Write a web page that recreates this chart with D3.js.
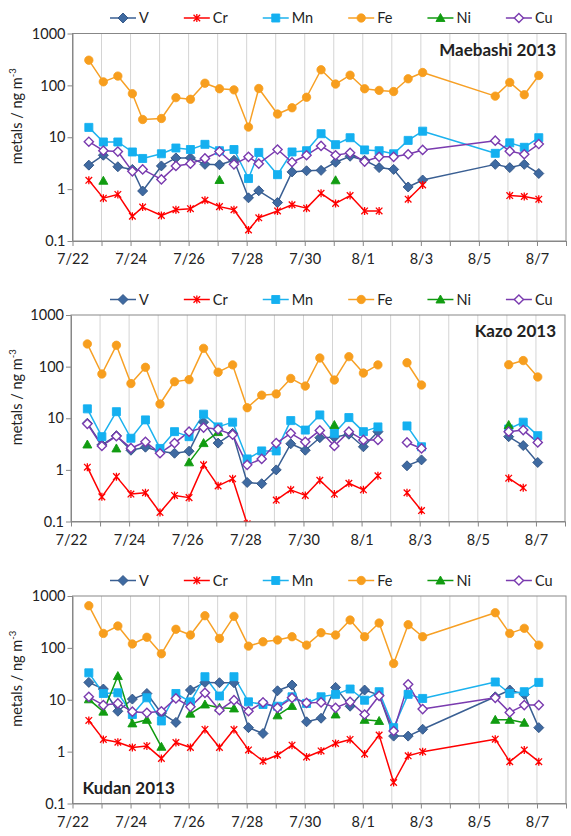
<!DOCTYPE html>
<html><head><meta charset="utf-8">
<script src="https://cdn.jsdelivr.net/npm/d3@7"></script>
<style>
body{margin:0;background:#fff;}
text{font-family:Lato,"Open Sans",sans-serif;fill:#222;}
</style>
</head><body>
<svg id="c" width="571" height="836"></svg>
<script>
// ---------------- data ----------------
const seriesNames = ["V","Cr","Mn","Fe","Ni","Cu"];
const stationNames = ["Maebashi 2013","Kazo 2013","Kudan 2013"];
const xTickLabels = ["7/22","7/24","7/26","7/28","7/30","8/1","8/3","8/5","8/7"];
const yTickValues = [0.1,1,10,100,1000];
const yTickLabels = ["0.1","1","10","100","1000"];

const sampleTimes = ["2013-07-22 13:30","2013-07-23 01:30","2013-07-23 13:30","2013-07-24 01:30","2013-07-24 13:30","2013-07-25 01:30","2013-07-25 13:30","2013-07-26 01:30","2013-07-26 13:30","2013-07-27 01:30","2013-07-27 13:30","2013-07-28 01:30","2013-07-28 13:30","2013-07-29 01:30","2013-07-29 13:30","2013-07-30 01:30","2013-07-30 13:30","2013-07-31 01:30","2013-07-31 13:30","2013-08-01 01:30","2013-08-01 13:30","2013-08-02 01:30","2013-08-02 13:30","2013-08-03 01:30","2013-08-05 13:30","2013-08-06 01:30","2013-08-06 13:30","2013-08-07 01:30"];
const sampleTimesMaebashi = ["2013-07-22 13:30","2013-07-23 01:30","2013-07-23 13:30","2013-07-24 01:30","2013-07-24 10:00","2013-07-25 01:30","2013-07-25 13:30","2013-07-26 01:30","2013-07-26 13:30","2013-07-27 01:30","2013-07-27 13:30","2013-07-28 01:30","2013-07-28 10:00","2013-07-29 01:30","2013-07-29 13:30","2013-07-30 01:30","2013-07-30 13:30","2013-07-31 01:30","2013-07-31 13:30","2013-08-01 01:30","2013-08-01 13:30","2013-08-02 01:30","2013-08-02 13:30","2013-08-03 01:30","2013-08-05 13:30","2013-08-06 01:30","2013-08-06 13:30","2013-08-07 01:30"];

// Maebashi
const maebashiV  = [2.9,4.5,2.7,2.4,0.92,2.8,4.0,4.0,3.0,2.95,3.6,0.68,0.93,0.55,2.15,2.26,2.3,3.3,4.3,3.6,2.6,2.4,1.1,1.5,3.0,2.6,3.0,2.0];
const maebashiCr = [1.48,0.67,0.79,0.30,0.45,0.31,0.40,0.42,0.61,0.46,0.40,0.163,0.28,0.38,0.50,0.43,0.83,0.53,0.75,0.38,0.38,null,0.64,1.2,null,0.75,0.72,0.64];
const maebashiMn = [15.5,8.1,8.1,5.2,3.9,4.8,6.2,5.8,7.3,5.5,5.8,1.6,5.1,1.9,5.2,5.5,11.7,7.2,9.8,5.7,5.5,4.8,8.7,13.1,4.9,7.8,6.4,9.8];
const maebashiFe = [306,117,151,69,22,23,58,54,110,86,82,15.7,87,28,37,59,200,106,157,86,80,76,134,177,62,114,66,155];
const maebashiNi = [null,1.45,null,null,null,null,null,null,null,1.5,null,null,null,null,null,null,null,1.48,null,null,null,null,null,null,null,null,null,null];
const maebashiCu = [8.2,5.5,5.3,2.2,2.4,1.54,2.8,3.1,3.9,5.3,3.0,4.2,3.1,5.8,3.3,4.5,6.8,4.5,5.0,3.4,4.2,4.2,4.7,5.7,8.6,5.4,4.7,7.4];

// Kazo
const kazoV  = [8.0,3.05,4.6,2.4,2.75,2.3,2.1,2.3,8.4,3.3,5.1,0.57,0.54,1.0,3.2,2.4,4.2,4.3,4.9,2.8,5.5,null,1.2,1.56,null,4.4,2.96,1.39];
const kazoCr = [1.13,0.30,0.74,0.34,0.36,0.15,0.32,0.29,1.25,0.49,0.67,0.09,null,0.26,0.41,0.32,0.63,0.34,0.55,0.41,0.77,null,0.36,0.163,null,0.69,0.45,null];
const kazoMn = [15.2,4.4,13.4,4.1,9.3,2.6,5.5,4.4,12.0,6.8,8.4,1.63,2.33,2.33,9.0,5.9,11.6,5.1,10.3,5.5,6.8,null,7.1,2.8,null,6.2,8.4,4.6];
const kazoFe = [275,72,259,47,97,18.9,51,56,226,78,108,16,28,29.6,59,42,147,55,156,75,108,null,119,44,null,109,131,63];
const kazoNi = [3.1,null,2.6,null,null,null,null,1.4,3.3,5.4,null,null,null,null,null,null,null,7.4,null,null,null,null,null,null,null,7.4,null,null];
const kazoCu = [7.8,2.9,4.5,2.63,3.5,2.1,3.3,5.5,6.6,6.1,4.8,1.25,1.63,3.3,5.1,3.5,5.8,2.9,5.5,3.8,3.8,null,3.4,2.6,null,5.5,5.9,3.4];

// Kudan
const kudanV  = [21.6,16.1,6.0,10.3,13.2,5.5,3.66,15.4,21.6,21.3,21.3,2.9,2.24,14.9,19.2,3.76,4.4,17.3,7.5,15.4,12.3,1.99,1.99,2.7,11.4,15.4,12.7,2.9];
const kudanCr = [3.99,1.72,1.52,1.2,1.29,0.74,1.5,1.2,2.68,1.2,2.66,1.08,0.66,0.86,1.33,0.79,1.03,1.44,1.72,0.9,2.08,0.254,0.83,0.99,1.74,0.64,1.07,0.64];
const kudanMn = [33,13.2,13.6,5.2,10.9,3.9,13.2,9.1,27.8,11.8,27.8,9.1,8.1,7.5,11.4,8.5,11.4,12.7,16.1,9.8,14.3,2.9,12.7,10.6,22,13.2,14.3,21.6];
const kudanFe = [650,190,264,119,160,77,228,177,417,152,405,108,131,142,164,113,196,177,344,164,301,50,280,164,476,190,238,113];
const kudanNi = [10.2,5.9,28.6,3.5,4.1,1.24,null,5.4,8.1,7.0,6.8,null,null,5.0,7.6,null,null,5.2,null,4.1,3.9,null,null,null,4.1,4.1,3.6,null];
const kudanCu = [11.4,7.9,8.5,5.9,5.6,6.0,10.6,7.3,13.6,6.3,9.8,6.0,8.9,7.0,10.9,8.7,8.9,7.0,9.1,5.2,11.9,2.5,19.8,6.6,10.9,5.7,7.9,7.9];

// ---------------- styles ----------------
const styles = {
  V:  {line:"#3A5F93", fill:"#3F6AA1", stroke:"#2E5182", shape:"diamond"},
  Cr: {line:"#FF0000", fill:"none",    stroke:"#FF0000", shape:"star"},
  Mn: {line:"#1CB2EE", fill:"#14B0F0", stroke:"#14B0F0", shape:"square"},
  Fe: {line:"#F7A025", fill:"#F79E1E", stroke:"#F79E1E", shape:"circle"},
  Ni: {line:"#109A10", fill:"#119C11", stroke:"#119C11", shape:"triangle"},
  Cu: {line:"#7A3BAF", fill:"#ffffff", stroke:"#7A3BAF", shape:"odiamond"}
};
const shapes = {
  diamond:"M0,-5L5,0L0,5L-5,0Z",
  odiamond:"M0,-4.6L4.6,0L0,4.6L-4.6,0Z",
  square:"M-4,-4H4V4H-4Z",
  triangle:"M0,-4.5L4.5,3.5H-4.5Z",
  star:"M-3.3,-3.3L3.3,3.3M-3.3,3.3L3.3,-3.3M0,-4V4"
};
function marker(sel, name){
  const s = styles[name];
  if(s.shape==="circle"){
    sel.append("circle").attr("r",4.2).attr("fill",s.fill).attr("stroke",s.stroke).attr("stroke-width",0.8);
  } else {
    sel.append("path").attr("d",shapes[s.shape])
      .attr("fill",s.fill).attr("stroke",s.stroke)
      .attr("stroke-width", s.shape==="star"?1.3:(s.shape==="odiamond"?1.4:0.9));
  }
}

const parseT = d3.timeParse("%Y-%m-%d %H:%M");
const parseD = d3.timeParse("%Y-%m-%d");
const fmt = d3.timeFormat("%-m/%-d");

const panels = [
  {name:stationNames[0], times:sampleTimesMaebashi, data:[maebashiV,maebashiCr,maebashiMn,maebashiFe,maebashiNi,maebashiCu],
   left:72.5, right:566, top:33.5, bottom:241, title:"tr"},
  {name:stationNames[1], times:sampleTimes, data:[kazoV,kazoCr,kazoMn,kazoFe,kazoNi,kazoCu],
   left:71, right:565, top:315, bottom:521.5, title:"tr"},
  {name:stationNames[2], times:sampleTimes, data:[kudanV,kudanCr,kudanMn,kudanFe,kudanNi,kudanCu],
   left:72.5, right:566, top:596, bottom:803.5, title:"bl"}
];

const svg = d3.select("#c");
const gridColor = "#d4d4d4", axisColor = "#878787";

panels.forEach((p, pi) => {
  const g = svg.append("g");
  const x = d3.scaleTime().domain([parseD("2013-07-22"), parseD("2013-08-08")]).range([p.left, p.right]);
  const y = d3.scaleLog().domain([0.1, 1000]).range([p.bottom, p.top]);
  const days = d3.timeDay.range(x.domain()[0], d3.timeDay.offset(x.domain()[1], 1));

  // vertical gridlines
  g.append("g").selectAll("line").data(days.slice(1, -1)).join("line")
    .attr("x1", d => x(d)).attr("x2", d => x(d))
    .attr("y1", p.top).attr("y2", p.bottom)
    .attr("stroke", gridColor).attr("stroke-width", 1);

  // frame
  g.append("rect").attr("x", p.left).attr("y", p.top)
    .attr("width", p.right - p.left).attr("height", p.bottom - p.top)
    .attr("fill", "none").attr("stroke", axisColor).attr("stroke-width", 1);

  // x axis
  const xAxis = d3.axisBottom(x).tickValues(days).tickSizeInner(5).tickSizeOuter(0).tickPadding(8)
    .tickFormat(d => xTickLabels.includes(fmt(d)) ? fmt(d) : "");
  const gx = g.append("g").attr("transform", `translate(0,${p.bottom})`).call(xAxis);
  gx.select(".domain").attr("stroke", axisColor);
  gx.selectAll(".tick line").attr("stroke", axisColor);
  gx.selectAll("text").attr("font-size", 14.5).attr("fill", "#222").style("font-family", "Lato");

  // y axis
  const yAxis = d3.axisLeft(y).tickValues(yTickValues).tickSizeInner(5).tickSizeOuter(0).tickPadding(2)
    .tickFormat((d, i) => yTickLabels[i]);
  const gy = g.append("g").attr("transform", `translate(${p.left},0)`).call(yAxis);
  gy.select(".domain").attr("stroke", axisColor);
  gy.selectAll(".tick line").attr("stroke", axisColor);
  gy.selectAll("text").attr("font-size", 14.5).attr("fill", "#222").style("font-family", "Lato");

  // y label
  const cy = (p.top + p.bottom) / 2 - 21;
  const yl = g.append("text").attr("transform", `translate(22,${cy}) rotate(-90)`)
    .attr("text-anchor", "middle").attr("font-size", 14.5);
  yl.append("tspan").text("metals / ng m");
  yl.append("tspan").attr("font-size", 9.5).attr("dy", -6).text("-3");

  // clip
  const cid = "clip" + pi;
  svg.append("clipPath").attr("id", cid).append("rect")
    .attr("x", p.left - 6).attr("y", p.top).attr("width", p.right - p.left + 12).attr("height", p.bottom - p.top);
  const plot = g.append("g").attr("clip-path", `url(#${cid})`);

  const times = p.times.map(parseT);
  seriesNames.forEach((name, si) => {
    const vals = p.data[si].map((v, i) => ({t: times[i], v}));
    const line = d3.line().defined(d => d.v != null).x(d => x(d.t)).y(d => y(d.v));
    plot.append("path").datum(vals).attr("d", line)
      .attr("fill", "none").attr("stroke", styles[name].line).attr("stroke-width", 1.5)
      .attr("stroke-linejoin", "round");
  });
  seriesNames.forEach((name, si) => {
    const vals = p.data[si].map((v, i) => ({t: times[i], v})).filter(d => d.v != null);
    plot.append("g").selectAll("g").data(vals).join("g")
      .attr("transform", d => `translate(${x(d.t)},${y(d.v)})`)
      .each(function(){ marker(d3.select(this), name); });
  });

  // legend
  const ly = p.top - 15.5;
  let lx = 110;
  seriesNames.forEach(name => {
    const lg = g.append("g");
    lg.append("line").attr("x1", lx).attr("x2", lx + 26).attr("y1", ly).attr("y2", ly)
      .attr("stroke", styles[name].line).attr("stroke-width", 1.5);
    marker(lg.append("g").attr("transform", `translate(${lx + 13},${ly})`), name);
    const t = lg.append("text").attr("x", lx + 29).attr("y", ly).attr("dy", "0.36em")
      .attr("font-size", 14.5).text(name);
    lx = lx + 29 + t.node().getComputedTextLength() + 35;
  });

  // title
  if (p.title === "tr") {
    g.append("text").attr("x", 556).attr("y", p.top + 22).attr("text-anchor", "end")
      .attr("font-size", 17).attr("font-weight", "bold").text(p.name);
  } else {
    g.append("text").attr("x", p.left + 10).attr("y", p.bottom - 10)
      .attr("font-size", 17).attr("font-weight", "bold").text(p.name);
  }
});
</script>
</body></html>
